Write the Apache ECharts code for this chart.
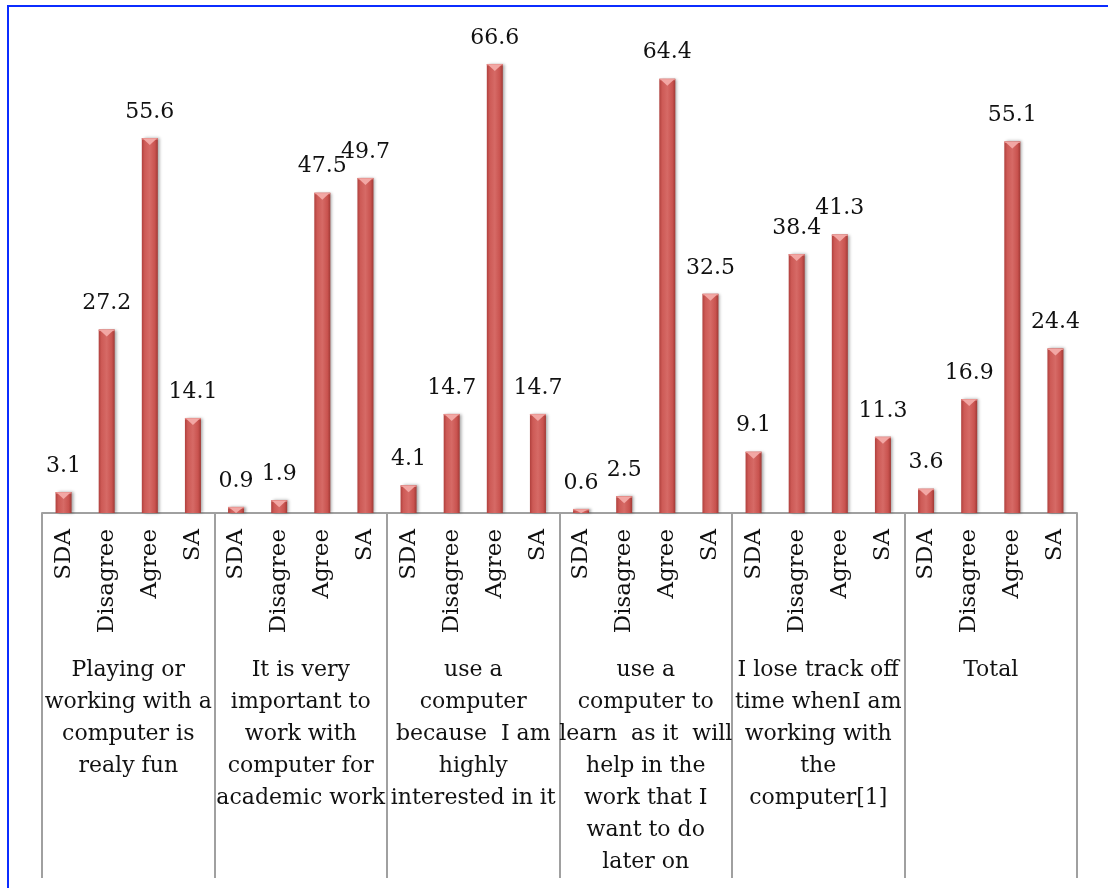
<!DOCTYPE html>
<html>
<head>
<meta charset="utf-8">
<script src="https://cdn.jsdelivr.net/npm/echarts@6/dist/echarts.min.js"></script>
<style>
  html, body { margin: 0; padding: 0; background: #fff; }
  #chart { width: 1108px; height: 888px; }
  #frame {
    position: absolute; left: 7px; top: 5px; right: -10px; bottom: -10px;
    border: 2px solid #0b2cff; pointer-events: none;
  }
</style>
</head>
<body>
<div id="chart"></div>
<div id="frame"></div>
<script>
// Response levels repeated for every statement
const levels = ['SDA', 'Disagree', 'Agree', 'SA'];

// Statements (group labels), line-broken as they appear under the axis
const statements = [
  'Playing or\nworking with a\ncomputer is\nrealy fun',
  'It is very\nimportant to\nwork with\ncomputer for\nacademic work',
  'use a\ncomputer\nbecause  I am\nhighly\ninterested in it',
  'use a\ncomputer to\nlearn  as it  will\nhelp in the\nwork that I\nwant to do\nlater on',
  'I lose track off\ntime whenI am\nworking with\nthe\ncomputer[1]',
  'Total'
];

// Percentages per statement, in the order SDA, Disagree, Agree, SA
const funValues       = [3.1, 27.2, 55.6, 14.1];
const importantValues = [0.9, 1.9, 47.5, 49.7];
const interestValues  = [4.1, 14.7, 66.6, 14.7];
const learnValues     = [0.6, 2.5, 64.4, 32.5];
const trackValues     = [9.1, 38.4, 41.3, 11.3];
const totalValues     = [3.6, 16.9, 55.1, 24.4];

const groups = [funValues, importantValues, interestValues, learnValues, trackValues, totalValues];
const categories = [];
const values = [];
groups.forEach(g => g.forEach((v, k) => { categories.push(levels[k]); values.push(v); }));

const FONT = 'DejaVu Serif';
const BAR_W = 16;
const CAP_H = 7;

const bodyFill = new echarts.graphic.LinearGradient(0, 0, 1, 0, [
  { offset: 0, color: '#b0403d' },
  { offset: 0.18, color: '#cd5a56' },
  { offset: 0.5, color: '#d66a66' },
  { offset: 0.82, color: '#c9534f' },
  { offset: 1, color: '#a13935' }
]);

const chart = echarts.init(document.getElementById('chart'), null, { renderer: 'canvas' });

chart.setOption({
  animation: false,
  backgroundColor: '#ffffff',
  grid: { left: 42, right: 31, top: 41, bottom: 375, containLabel: false },
  xAxis: [
    {
      type: 'category',
      data: categories,
      position: 'bottom',
      axisLine: { show: true, lineStyle: { color: '#a0a0a0', width: 2 } },
      axisTick: { show: false },
      axisLabel: {
        interval: 0, rotate: 90, margin: 16,
        fontFamily: FONT, fontSize: 23, color: '#111'
      }
    },
    {
      type: 'category',
      data: statements,
      position: 'bottom',
      offset: 0,
      axisLine: { show: false },
      axisTick: { show: true, length: 365, lineStyle: { color: '#a0a0a0', width: 2 } },
      axisLabel: {
        interval: 0, margin: 141, verticalAlign: 'top', align: 'center',
        fontFamily: FONT, fontSize: 22, lineHeight: 32, color: '#111'
      }
    }
  ],
  yAxis: {
    type: 'value', min: 0, max: 70,
    show: false,
    splitLine: { show: false }
  },
  series: [
    {
      type: 'bar',
      xAxisIndex: 0,
      data: values,
      barWidth: BAR_W,
      itemStyle: {
        color: bodyFill,
        shadowColor: 'rgba(0,0,0,0.35)',
        shadowBlur: 3,
        shadowOffsetX: 2,
        shadowOffsetY: 0
      },
      label: {
        show: true, position: 'top', distance: 15,
        fontFamily: FONT, fontSize: 22, color: '#111',
        formatter: p => p.value.toFixed(1)
      }
    },
    {
      // light bevelled cap at the top of each bar
      type: 'custom',
      xAxisIndex: 0,
      data: values.map((v, i) => [i, v]),
      encode: { x: 0, y: 1 },
      z: 3,
      renderItem(params, api) {
        const i = api.value(0), v = api.value(1);
        const top = api.coord([i, v]);
        const base = api.coord([i, 0]);
        const h = Math.min(CAP_H, base[1] - top[1]);
        const x0 = top[0] - BAR_W / 2;
        return {
          type: 'group',
          children: [
            {
              type: 'rect',
              shape: { x: x0, y: top[1], width: BAR_W, height: Math.min(1.5, h) },
              style: { fill: '#e58a86' }
            },
            {
              type: 'polygon',
              shape: { points: [[x0 + 1, top[1] + 0.5], [x0 + BAR_W - 1, top[1] + 0.5], [top[0], top[1] + h]] },
              style: { fill: '#f2a7a4' }
            }
          ]
        };
      }
    }
  ]
});
</script>
</body>
</html>
